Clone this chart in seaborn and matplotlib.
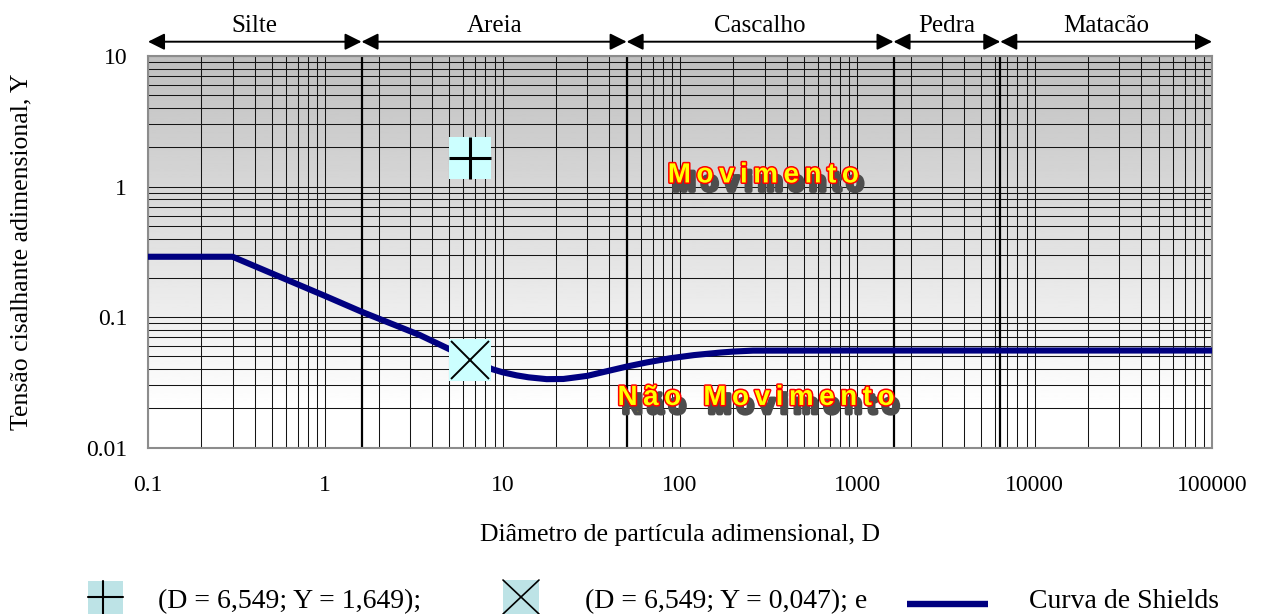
import numpy as np
import matplotlib
matplotlib.use("Agg")
import matplotlib.pyplot as plt
import matplotlib.patheffects as pe
from matplotlib.patches import Rectangle
import seaborn as sns

# curva de Shields
curve_D = [0.1, 0.3, 1.0, 1.6, 3.4, 6.5, 8.7, 10, 12, 14, 17.7, 22, 30, 38, 50, 65,
           88, 120, 168, 200, 258, 1000, 10000, 100000]
curve_Y = [0.29, 0.29, 0.145, 0.11, 0.073, 0.048, 0.040, 0.0378, 0.0358, 0.0346, 0.0335,
           0.0336, 0.0355, 0.0383, 0.0418, 0.0450, 0.0484, 0.0512, 0.0535, 0.0545,
           0.0554, 0.0555, 0.0555, 0.0555]

# pontos calculados
point_D = [6.549, 6.549]
point_Y = [1.649, 0.047]

# classes granulometricas
class_names = ["Silte", "Areia", "Cascalho", "Pedra", "Matacão"]
class_edges = [0.1, 1.6, 50, 1600, 6400, 100000]

xticks_vals = [0.1, 1, 10, 100, 1000, 10000, 100000]
xticks_labels = ["0.1", "1", "10", "100", "1000", "10000", "100000"]
yticks_vals = [0.01, 0.1, 1, 10]
yticks_labels = ["0.01", "0.1", "1", "10"]

sns.set_style("white")
plt.rcParams["font.family"] = ["Liberation Serif", "DejaVu Serif"]
plt.rcParams.update({"text.color": "black", "axes.labelcolor": "black",
                     "xtick.color": "black", "ytick.color": "black"})

W, H = 1264, 614
fig = plt.figure(figsize=(W / 100, H / 100), dpi=100)
ax = fig.add_axes([148 / W, (H - 447.7) / H, 1064 / W, 391.7 / H])

# fundo em degrade
t = np.linspace(0, 1, 400)
shade = np.interp(t, [0, 0.9, 1], [0.75, 1.0, 1.0])
ax.imshow(shade[:, None], extent=[0, 1, 0, 1], transform=ax.transAxes,
          aspect="auto", cmap="gray", vmin=0, vmax=1, zorder=-2)

ax.set_xscale("log")
ax.set_yscale("log")
ax.set_autoscale_on(False)
ax.set_xlim(0.1, 100000)
ax.set_ylim(0.01, 10)

# grade
minor_x = [m * 10.0 ** e for e in range(-1, 5) for m in range(2, 10)]
minor_y = [m * 10.0 ** e for e in range(-2, 1) for m in range(2, 10)]
ax.set_xticks(xticks_vals, xticks_labels)
ax.set_yticks(yticks_vals, yticks_labels)
ax.set_xticks(minor_x, minor=True)
ax.set_yticks(minor_y, minor=True)
ax.xaxis.set_minor_formatter(plt.NullFormatter())
ax.yaxis.set_minor_formatter(plt.NullFormatter())
ax.grid(which="both", color="#151515", lw=0.75)
ax.set_axisbelow(True)
ax.tick_params(which="both", length=0, labelsize=17)
ax.tick_params(axis="x", pad=20)
ax.tick_params(axis="y", pad=15)
for s in ax.spines.values():
    s.set_color("#8c8c8c")
    s.set_linewidth(1.5)

# limites das classes
for b in class_edges[1:-1]:
    ax.axvline(b, color="black", lw=1.6, zorder=1)

# setas e nomes das classes
for name, a, b in zip(class_names, class_edges[:-1], class_edges[1:]):
    ax.annotate("", xy=(b, 1.0365), xytext=(a, 1.0365),
                xycoords=("data", "axes fraction"), textcoords=("data", "axes fraction"),
                arrowprops=dict(arrowstyle="<|-|>,head_length=0.5,head_width=0.25",
                                color="black", lw=1.4, mutation_scale=20,
                                shrinkA=0, shrinkB=0), annotation_clip=False)
    ax.text(np.sqrt(a * b), 1.077, name, transform=ax.get_xaxis_transform(),
            ha="center", va="center", fontsize=18)

# curva de Shields
sns.lineplot(x=curve_D, y=curve_Y, ax=ax, color="#000080", linewidth=4.4,
             solid_capstyle="round", sort=False, estimator=None, zorder=3)

# pontos
sns.scatterplot(x=point_D, y=point_Y, ax=ax, marker="s", s=30 ** 2,
                color="#ccffff", edgecolor="none", linewidth=0, zorder=4)
ax.plot(point_D[0], point_Y[0], marker="+", ms=30, mew=2.2, color="black",
        ls="none", zorder=5)
ax.plot(point_D[1], point_Y[1], marker="x", ms=28, mew=1.4, color="black",
        ls="none", zorder=5)

# textos Movimento / Nao Movimento
fx = [pe.SimplePatchShadow(offset=(3.4, -6.0), shadow_rgbFace="#4d4d4d", alpha=1.0),
      pe.Stroke(offset=(3.4, -6.0), linewidth=3, foreground="#4d4d4d"),
      pe.Stroke(linewidth=2.2, foreground="red"), pe.Normal()]
for txt, xf, yf in [("Movimento", 0.578, 0.695), ("Não Movimento", 0.571, 0.127)]:
    ax.text(xf, yf, "\u2009".join(txt).replace("\u2009 \u2009", "\u2009\u2009\u2009\u2009"),
            transform=ax.transAxes, ha="center", va="center", fontsize=20,
            fontweight="bold", family="Liberation Sans", color="#ffff00",
            path_effects=fx, zorder=6)

ax.set_xlabel("Diâmetro de partícula adimensional, D", fontsize=18.5, va="baseline")
ax.xaxis.set_label_coords(0.5, (447.7 - 541) / 391.7)
ax.set_ylabel("Tensão cisalhante adimensional, Y", fontsize=18.5)
ax.yaxis.set_label_coords((32 - 148) / 1064, 0.5)

# legenda desenhada em pixels da figura
lg = fig.add_axes([0, 0, 1, 1], zorder=10)
lg.set_xlim(0, W)
lg.set_ylim(H, 0)
lg.axis("off")
lg.add_patch(Rectangle((88, 581), 35, 40, color="#bde3e6", lw=0))
lg.plot([88, 123], [597, 597], color="black", lw=1.5)
lg.plot([103, 103], [581, 614], color="black", lw=1.5)
lg.add_patch(Rectangle((503, 580), 36, 40, color="#bde3e6", lw=0))
lg.plot([503, 539], [580, 614], color="black", lw=1.2)
lg.plot([503, 539], [614, 580], color="black", lw=1.2)
lg.plot([907, 988], [604, 604], color="#000080", lw=4.6, solid_capstyle="butt")
lg.text(158, 608, "(D = 6,549; Y = 1,649);", fontsize=20, va="baseline")
lg.text(585, 608, "(D = 6,549; Y = 0,047); e", fontsize=20, va="baseline")
lg.text(1029, 608, "Curva de Shields", fontsize=20, va="baseline")

fig.savefig("out.png", dpi=100)
